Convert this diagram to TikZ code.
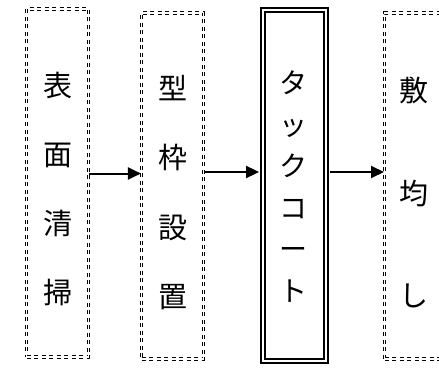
\documentclass[tikz,border=0pt]{standalone}
\usepackage{fontspec}
\newfontfamily\jpfont{Noto Sans CJK JP}
\usetikzlibrary{arrows.meta}
\tikzset{
  dbox/.style={draw, rectangle, inner sep=0pt, line width=1.1pt, double, double distance=1.6pt, dash pattern=on 4pt off 3.5pt},
  sbox/.style={draw, rectangle, inner sep=0pt, line width=1.9pt, double, double distance=2.6pt},
  arr/.style={line width=2pt, -{Triangle[length=13pt,width=12pt]}},
  lbl/.style={align=center, inner sep=0pt},
}
\begin{document}
\begin{tikzpicture}[x=1pt,y=-1pt]
\useasboundingbox (0,0) rectangle (439,369);
\clip (0,0) rectangle (439,369);
\node[dbox, minimum width=62pt, minimum height=348pt] (b1) at (57.5,183) {};
\node[dbox, minimum width=62pt, minimum height=346pt] (b2) at (172.5,186) {};
\node[sbox, minimum width=63pt, minimum height=351pt] (b3) at (294.5,185.5) {};
\node[dbox, minimum width=65pt, minimum height=346pt, anchor=west] (b4) at (384,186) {};
\node[lbl, font=\jpfont\fontsize{29}{69}\selectfont] (l1) at (57.5,188.5) {表\\面\\清\\掃};
\node[lbl, font=\jpfont\fontsize{29}{69.5}\selectfont] (l2) at (172.5,192.5) {型\\枠\\設\\置};
\node[lbl, font=\jpfont\fontsize{28}{41.5}\selectfont] (l3) at (293,186.5) {タ\\ッ\\ク\\コ\\ー\\ト};
\node[lbl, font=\jpfont\fontsize{29}{102.5}\selectfont] (l4) at (414,192.5) {敷\\均\\し};
\draw[arr] ([yshift=9.5pt]b1.east) -- ([yshift=12.5pt]b2.west);
\draw[arr] ([yshift=14pt]b2.east) -- ([yshift=13.5pt,xshift=-3pt]b3.west);
\draw[arr] ([yshift=13.5pt,xshift=3pt]b3.east) -- ([yshift=14pt]b4.west);
\end{tikzpicture}
\end{document}
